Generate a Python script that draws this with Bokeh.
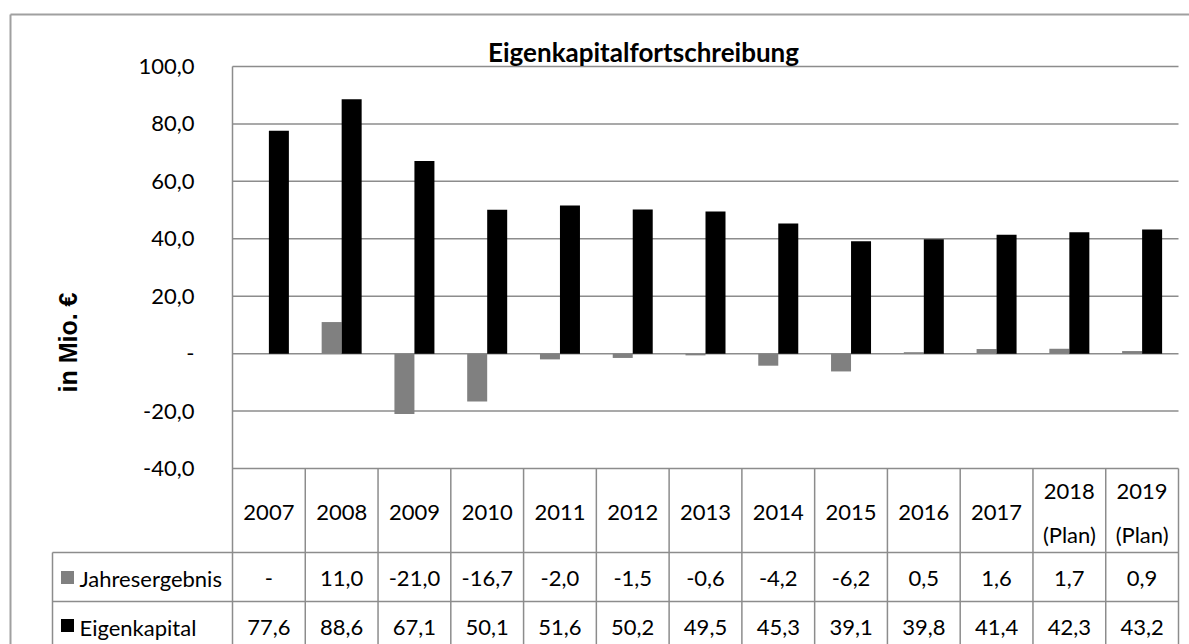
import numpy as np
from bokeh.plotting import figure
from bokeh.models import Range1d
from bokeh.core.properties import value
from bokeh.embed import file_html
from bokeh.resources import INLINE

# ---------------- data ----------------
chart_title = "Eigenkapitalfortschreibung"
y_axis_label = "in Mio. €"
years = ["2007", "2008", "2009", "2010", "2011", "2012", "2013", "2014",
         "2015", "2016", "2017", "2018\n(Plan)", "2019\n(Plan)"]
jahresergebnis = [None, 11.0, -21.0, -16.7, -2.0, -1.5, -0.6, -4.2, -6.2, 0.5, 1.6, 1.7, 0.9]
eigenkapital = [77.6, 88.6, 67.1, 50.1, 51.6, 50.2, 49.5, 45.3, 39.1, 39.8, 41.4, 42.3, 43.2]
series_names = ["Jahresergebnis", "Eigenkapital"]
series_colors = ["#808080", "#000000"]
y_ticks = [100, 80, 60, 40, 20, 0, -20, -40]
y_tick_labels = ["100,0", "80,0", "60,0", "40,0", "20,0", "-", "-20,0", "-40,0"]

# ---------------- layout helpers (page pixels -> data units) ----------------
N = len(years)
PLOT_L, PLOT_R = 232, 1178
COL = (PLOT_R - PLOT_L) / N
Y_TOP_PX, Y_BOT_PX = 66, 468          # pixel rows of y=100 and y=-40
YS = (Y_BOT_PX - Y_TOP_PX) / (y_ticks[0] - y_ticks[-1])
OFF = 0                               # page offset of the canvas


def xd(px):
    return (px - PLOT_L) / COL


def yd(py):
    return y_ticks[0] - (py - Y_TOP_PX) / YS


W, H = 1189, 644
p = figure(width=W, height=H, output_backend="svg", toolbar_location=None,
           x_range=Range1d(xd(OFF), xd(OFF + W)), y_range=Range1d(yd(OFF + H), yd(OFF)),
           min_border=0, min_border_left=0, min_border_right=0,
           min_border_top=0, min_border_bottom=0)
p.axis.visible = False
p.grid.visible = False
p.outline_line_color = None
p.background_fill_color = "white"
p.border_fill_color = "white"

FONT = value("Lato")
GRID = "#8c8c8c"
BOTTOM = yd(700)


def fmt(v):
    return "-" if v is None else f"{v:.1f}".replace(".", ",")


centers = np.arange(N) + 0.5
bw = 20 / COL
je = np.array([np.nan if v is None else v for v in jahresergebnis])
ek = np.array(eigenkapital)

# outer chart border
p.segment(x0=[xd(10), xd(10)], y0=[yd(14), yd(14)], x1=[xd(1300), xd(10)], y1=[yd(14), BOTTOM],
          line_color="#a0a0a0", line_width=2)

# horizontal gridlines
p.segment(x0=0, x1=N, y0=y_ticks, y1=y_ticks, line_color=GRID, line_width=1.5)

# plot left border and table column borders
p.segment(x0=[0], x1=[0], y0=[y_ticks[0]], y1=[BOTTOM], line_color=GRID, line_width=1.5)
cols = np.arange(1, N + 1)
p.segment(x0=cols, x1=cols, y0=y_ticks[-1], y1=BOTTOM, line_color=GRID, line_width=1.5)
# legend column
p.segment(x0=[xd(52)], x1=[xd(52)], y0=[yd(552)], y1=[BOTTOM], line_color=GRID, line_width=1.5)
p.segment(x0=xd(52), x1=N, y0=[yd(552), yd(601)], y1=[yd(552), yd(601)],
          line_color=GRID, line_width=1.5)

# bars
p.vbar(x=centers - bw / 2, top=je, bottom=0, width=bw, fill_color=series_colors[0], line_color=None)
p.vbar(x=centers + bw / 2, top=ek, bottom=0, width=bw, fill_color=series_colors[1], line_color=None)

# y tick labels
p.text(x=xd(194), y=y_ticks, text=y_tick_labels, text_align="right", text_baseline="middle",
       text_font=FONT, text_font_size="22px", text_color="#000000")

# title
p.text(x=[xd(643)], y=[yd(51)], text=[chart_title], text_align="center", text_baseline="middle",
       text_font=FONT, text_font_size="26px", text_font_style="bold", text_color="#000000")

# y axis label
p.text(x=[xd(67)], y=[yd(342)], text=[y_axis_label], angle=np.pi / 2, text_align="center",
       text_baseline="middle", text_font=value("Liberation Sans"), text_font_size="25px",
       text_font_style="bold", text_color="#000000")

# table header (years)
p.text(x=centers, y=yd(512), text=years, text_align="center", text_baseline="middle",
       text_font=FONT, text_font_size="22px", text_line_height=1.6, text_color="#000000")

# table values
row_y = [yd(578), yd(627)]
for vals, ry in zip([jahresergebnis, eigenkapital], row_y):
    p.text(x=centers, y=ry, text=[fmt(v) for v in vals], text_align="center",
           text_baseline="middle", text_font=FONT, text_font_size="22px", text_color="#000000")

# legend keys and names
p.scatter(x=xd(67), y=[yd(577), yd(625)], marker="square", size=13,
          fill_color=series_colors, line_color=None)
p.text(x=xd(79), y=row_y, text=series_names, text_align="left", text_baseline="middle",
       text_font=FONT, text_font_size="22px", text_color="#000000")

open("out.html", "w").write(file_html(p, INLINE))
